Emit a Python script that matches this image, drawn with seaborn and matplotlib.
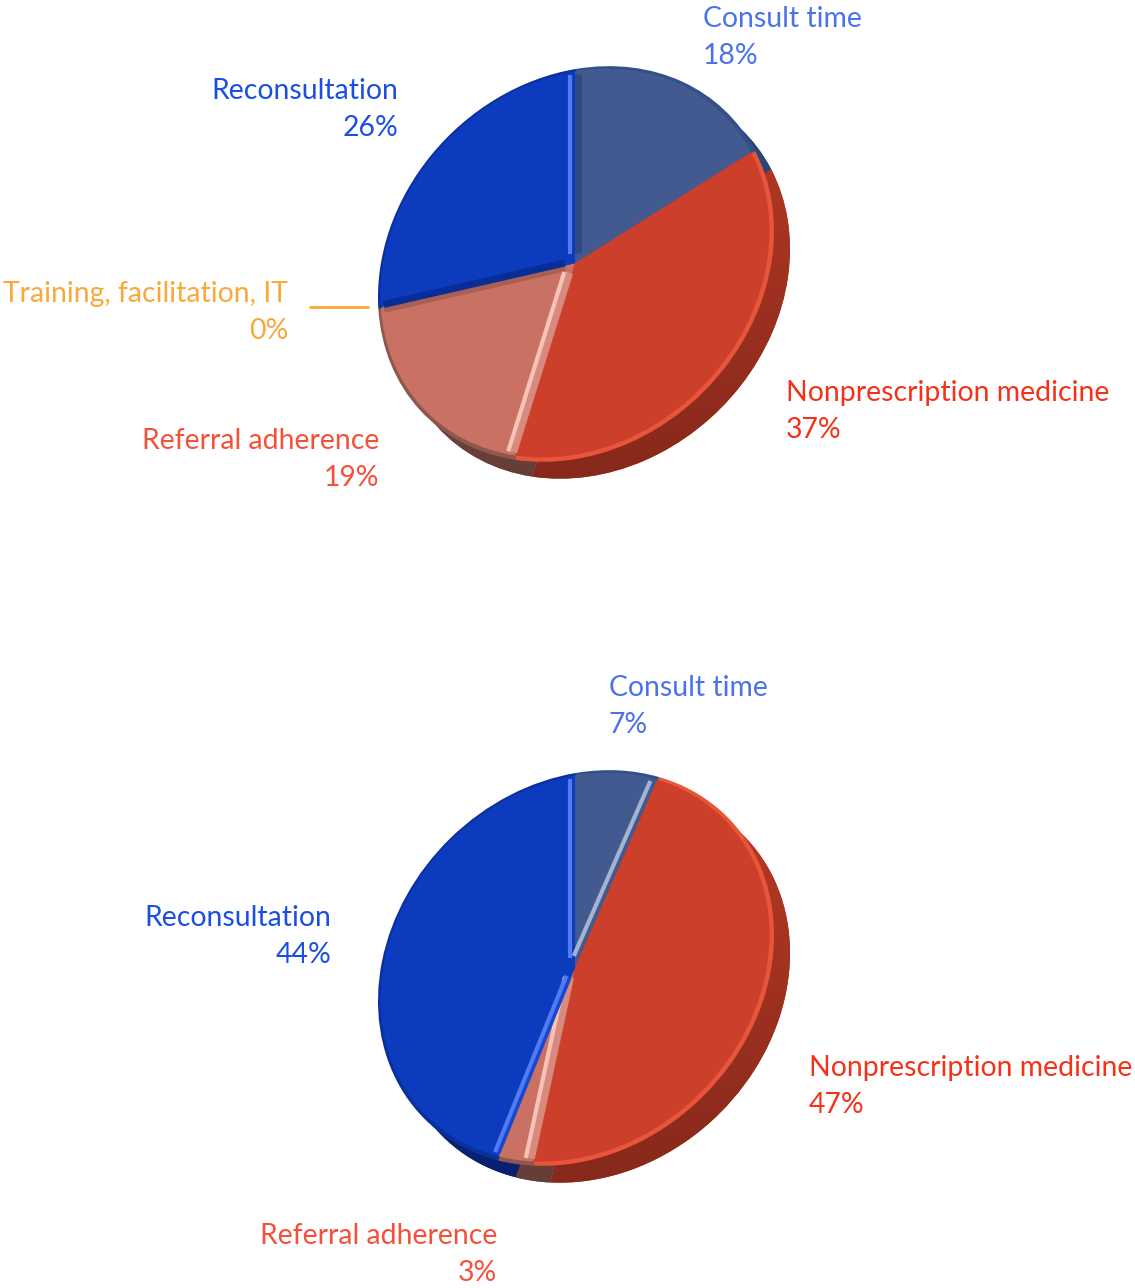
import numpy as np
import matplotlib
matplotlib.use("Agg")
import matplotlib.pyplot as plt
from matplotlib.colors import LinearSegmentedColormap, to_rgb
from matplotlib.transforms import Affine2D
import seaborn as sns

categories = ["Consult time", "Nonprescription medicine", "Referral adherence",
              "Training, facilitation, IT", "Reconsultation"]
values_top = [18, 37, 19, 0, 26]
values_bottom = [7, 47, 3, 0, 44]

face_colors = ["#425a90", "#cc3f2a", "#c97264", "#f9a83a", "#0c3bbd"]
rim_colors = ["#34508a", "#e8553a", "#8f574d", "#f9a83a", "#0a309f"]
depth_colors = ["#2f4a80", "#bd3a26", "#8f574d", "#f9a83a", "#0a2f9a"]
shine_colors = ["#a3b3d0", "#e88a78", "#f8c2b6", "#f9a83a", "#4f7cf0"]
band_colors = ["#2f4a80", "#cc3f2a", "#d98a7e", "#f9a83a", "#082d96"]
text_colors = ["#4a72ea", "#f5311a", "#f5503a", "#f9a83a", "#1a4fe0"]
TILT = 0.167
SQUASH = 0.985

sns.set_theme(style="white")
plt.rcParams["font.family"] = ["Lato", "DejaVu Sans"]

W, H = 1135, 1288
fig = plt.figure(figsize=(W / 100, H / 100), dpi=100)
ax = fig.add_axes([0, 0, 1, 1])


def Y(py):
    return H - py


def edge_line(w, edge, color, inset, lw, tr, start=10):
    a = np.deg2rad(w.theta2 if edge == "start" else w.theta1)
    u = np.array([np.cos(a), np.sin(a)])
    sign = 1 if edge == "start" else -1
    n = sign * np.array([np.sin(a), -np.cos(a)])
    p0 = np.array(w.center) + n * inset + u * start
    p1 = np.array(w.center) + n * inset + u * (w.r - 3)
    ax.plot([p0[0], p1[0]], [p0[1], p1[1]], color=color, lw=lw,
            solid_capstyle="butt", zorder=1, transform=tr)


def draw_pie(values, cx, cy, radius, explode, edges):
    kw = dict(startangle=90, counterclock=False, explode=explode, normalize=True,
              wedgeprops=dict(linewidth=0))
    # slight tilt of the disc, as in a perspective view
    tilt = Affine2D.from_values(1, TILT, 0, SQUASH, 0, 0)
    tr = (Affine2D().translate(-cx, -Y(cy)) + tilt
          + Affine2D().translate(cx, Y(cy)) + ax.transData)
    off = 17
    depth, _ = ax.pie(values, colors=depth_colors,
                      center=(cx + off, Y(cy + off + 4)), radius=radius - 1, **kw)
    for w, col in zip(depth, depth_colors):
        w.set_transform(tr)
        if w.theta1 == w.theta2:
            continue
        cm = LinearSegmentedColormap.from_list("d", [tuple(v * 0.7 for v in to_rgb(col)), col])
        im = ax.imshow(np.linspace(0, 1, 256).reshape(-1, 1), cmap=cm, origin="lower", aspect="auto",
                       extent=[cx - radius, cx + radius + off * 2,
                               Y(cy + radius + off + 10), Y(cy - radius)], zorder=1)
        im.set_clip_path(w)
    rims, _ = ax.pie(values, colors=rim_colors, center=(cx, Y(cy)), radius=radius, **kw)
    wedges, _ = ax.pie(values, colors=face_colors,
                       center=(cx - 1, Y(cy - 1)), radius=radius - 3.5, **kw)
    for w in list(rims) + list(wedges):
        w.set_transform(tr)
    for i, edge, palette, inset, lw in edges:
        edge_line(wedges[i], edge, palette[i], inset, lw, tr)


draw_pie(values_top, 576, 264, 198, [0.04, 0.0, 0.0, 0.0, 0.025],
         [(0, "start", band_colors, 2.5, 5),
          (2, "end", ["", "", "#a85f54", "", ""], 2.5, 5),
          (2, "start", band_colors, 3, 6),
          (2, "start", shine_colors, 8, 3),
          (4, "start", band_colors, 2.5, 5),
          (4, "end", shine_colors, 5, 3)])
draw_pie(values_bottom, 576, 968, 198, [0.04, 0.02, 0.14, 0.0, 0.03],
         [(0, "end", shine_colors, 6, 3),
          (2, "start", band_colors, 3, 6),
          (2, "start", shine_colors, 8, 3),
          (4, "start", ["", "", "", "", "#1746d6"], 2, 4),
          (4, "start", shine_colors, 5, 3),
          (4, "end", shine_colors, 5, 3)])


def label(i, values, x, y, ha):
    kw = dict(color=text_colors[i], fontsize=20.4, ha=ha, va="center", zorder=6)
    ax.text(x, Y(y), categories[i], **kw)
    ax.text(x, Y(y + 37), f"{values[i]}%", **kw)


label(0, values_top, 703, 19, "left")
label(1, values_top, 786, 393, "left")
label(2, values_top, 379, 441, "right")
label(3, values_top, 288, 294, "right")
label(4, values_top, 398, 91, "right")
ax.plot([310, 368], [Y(307), Y(307)], color=text_colors[3], lw=2)

label(0, values_bottom, 609, 688, "left")
label(1, values_bottom, 809, 1068, "left")
label(2, values_bottom, 497, 1236, "right")
label(4, values_bottom, 331, 918, "right")

ax.set_xlim(0, W)
ax.set_ylim(0, H)
ax.set_aspect("equal")
ax.axis("off")
fig.savefig("out.png", dpi=100)
